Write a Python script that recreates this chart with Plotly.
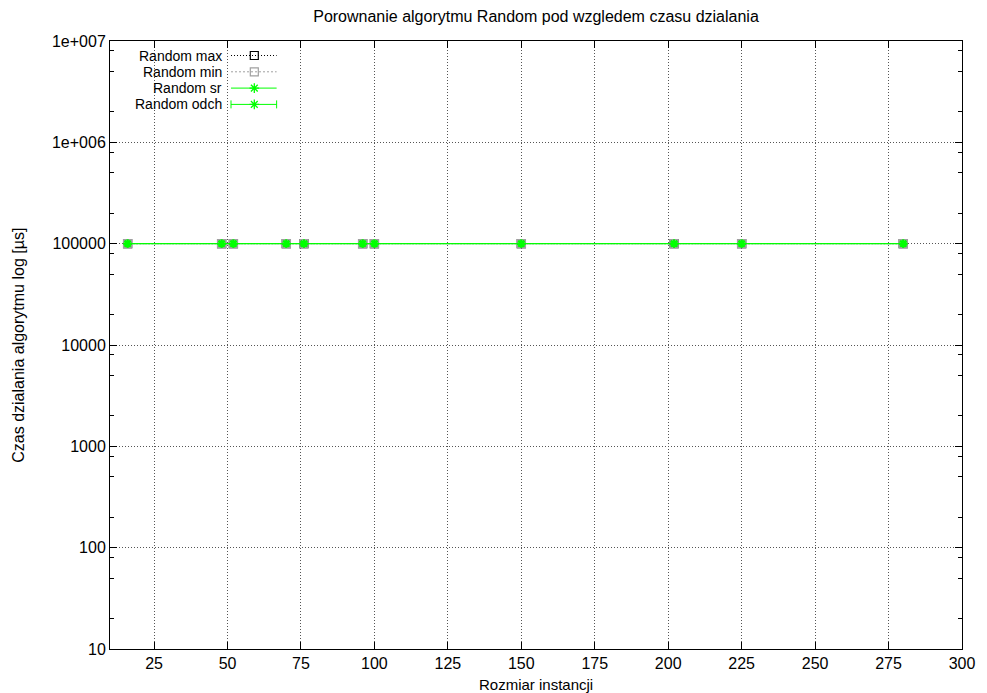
import plotly.graph_objects as go

# ---- data ----
sizes = [16, 48, 52, 70, 76, 96, 100, 150, 202, 225, 280]
t_max = [100000, 100000, 100000, 100000, 100000, 100000, 100000, 100000, 100000, 100000, 100000]
t_min = [100000, 100000, 100000, 100000, 100000, 100000, 100000, 100000, 100000, 100000, 100000]
t_sr = [100000, 100000, 100000, 100000, 100000, 100000, 100000, 100000, 100000, 100000, 100000]
t_odch = [0, 0, 0, 0, 0, 0, 0, 0, 0, 0, 0]
series_names = ["Random max", "Random min", "Random sr", "Random odch"]
y_tickvals = [10, 100, 1000, 10000, 100000, 1000000, 10000000]
y_ticktext = ["10", "100", "1000", "10000", "100000", "1e+006", "1e+007"]
x_tickvals = [25, 50, 75, 100, 125, 150, 175, 200, 225, 250, 275, 300]

GREEN = "#00ff00"
GRAY = "#a0a0a0"
FONT = "Liberation Sans, Arial, sans-serif"
FS = 16

W, H = 987, 693
L, R, T, B = 110, 18, 41, 44
pw, ph = W - L - R, H - T - B

fig = go.Figure()

fig.add_trace(go.Scatter(x=sizes, y=t_max, mode="lines+markers", name=series_names[0],
                         line=dict(color="black", width=1, dash="1px,2px"),
                         marker=dict(symbol="square-open", size=8, color="black", line=dict(width=1.2)),
                         showlegend=False))
fig.add_trace(go.Scatter(x=sizes, y=t_min, mode="lines+markers", name=series_names[1],
                         line=dict(color=GRAY, width=1, dash="2px,2px"),
                         marker=dict(symbol="square-open", size=8, color=GRAY, line=dict(width=1.5)),
                         showlegend=False))
fig.add_trace(go.Scatter(x=sizes, y=t_sr, mode="lines+markers", name=series_names[2],
                         line=dict(color=GREEN, width=1),
                         marker=dict(symbol="asterisk-open", size=7, color=GREEN, line=dict(width=2, color=GREEN)),
                         showlegend=False))
fig.add_trace(go.Scatter(x=sizes, y=t_sr, mode="lines+markers", name=series_names[3],
                         line=dict(color=GREEN, width=1),
                         error_y=dict(type="data", array=t_odch, color=GREEN, thickness=1, width=3),
                         marker=dict(symbol="asterisk-open", size=7, color=GREEN, line=dict(width=2, color=GREEN)),
                         showlegend=False))

# ---- custom gnuplot-style key (text left of the sample) ----
def px(xp):
    return (xp - L) / pw

def py(yp):
    return (H - B - yp) / ph

key_rows = [55.5, 71.8, 88.1, 104.4]
key_text_right = 224
key_x0, key_x1, key_xm = 232, 278, 255.5
styles = [
    dict(color="black", dash="1px,2px", sym="square-open", mcolor="black", msize=8, mw=1.2),
    dict(color=GRAY, dash="2px,2px", sym="square-open", mcolor=GRAY, msize=8, mw=1.2),
    dict(color=GREEN, dash="solid", sym="asterisk-open", mcolor=GREEN, msize=8, mw=1.3),
    dict(color=GREEN, dash="solid", sym="asterisk-open", mcolor=GREEN, msize=8, mw=1.3),
]
annotations = []
shapes = []
for i, (name, yr, st) in enumerate(zip(series_names, key_rows, styles)):
    annotations.append(dict(x=px(key_text_right), y=py(yr), xref="paper", yref="paper",
                            text=name, showarrow=False, xanchor="right", yanchor="middle",
                            borderpad=0,
                            font=dict(family=FONT, size=14, color="black")))
    shapes.append(dict(type="line", xref="paper", yref="paper", x0=px(key_x0), x1=px(key_x1),
                       y0=py(yr), y1=py(yr), line=dict(color=st["color"], width=1, dash=st["dash"])))
    if i == 3:
        for xe in (key_x0, key_x1):
            shapes.append(dict(type="line", xref="paper", yref="paper", x0=px(xe), x1=px(xe),
                               y0=py(yr - 4), y1=py(yr + 4), line=dict(color=GREEN, width=1)))
    fig.add_trace(go.Scatter(x=[px(key_xm)], y=[py(yr)], xaxis="x2", yaxis="y2", mode="markers",
                             marker=dict(symbol=st["sym"], size=st["msize"], color=st["mcolor"],
                                         line=dict(width=st["mw"], color=st["mcolor"])),
                             showlegend=False, hoverinfo="skip"))

annotations.append(dict(x=0.5, y=py(684), xref="paper", yref="paper", text="Rozmiar instancji",
                        showarrow=False, xanchor="center", yanchor="middle", borderpad=0,
                        font=dict(family=FONT, size=15, color="black")))
annotations.append(dict(x=px(17), y=py(345), xref="paper", yref="paper",
                        text="Czas dzialania algorytmu log [µs]", textangle=-90,
                        showarrow=False, xanchor="center", yanchor="middle",
                        font=dict(family=FONT, size=FS, color="black")))

minor_vals = []
for e in range(1, 7):
    for m in (2, 5, 8):
        minor_vals.append(m * 10 ** e)

fig.update_layout(
    width=W, height=H,
    margin=dict(l=L, r=R, t=T, b=B),
    paper_bgcolor="white", plot_bgcolor="white",
    font=dict(family=FONT, size=FS, color="black"),
    title=dict(text="Porownanie algorytmu Random pod wzgledem czasu dzialania",
               x=0.5, xref="paper", y=1 - 16 / H, yref="container", yanchor="middle",
               font=dict(family=FONT, size=FS, color="black")),
    showlegend=False,
    annotations=annotations,
    shapes=shapes,
    xaxis=dict(range=[10, 300], tickmode="array", tickvals=x_tickvals,
               showline=True, linecolor="black", linewidth=1, mirror="allticks",
               ticks="inside", ticklen=7, tickcolor="black",
               showgrid=True, gridcolor="#555555", griddash="1px,2px", gridwidth=1,
               zeroline=False, tickfont=dict(size=FS)),
    yaxis=dict(type="log", range=[1, 7], tickmode="array", tickvals=y_tickvals, ticktext=y_ticktext,
               showline=True, linecolor="black", linewidth=1, mirror="allticks",
               ticks="inside", ticklen=7, tickcolor="black",
               showgrid=True, gridcolor="#555555", griddash="1px,2px", gridwidth=1,
               zeroline=False, tickfont=dict(size=FS),
               minor=dict(tickmode="array", tickvals=minor_vals, ticks="inside", ticklen=4,
                          tickcolor="black", showgrid=False)),
    xaxis2=dict(overlaying="x", range=[0, 1], visible=False, fixedrange=True),
    yaxis2=dict(overlaying="y", range=[0, 1], visible=False, fixedrange=True, anchor="x2"),
)

fig.write_html("out.html")
